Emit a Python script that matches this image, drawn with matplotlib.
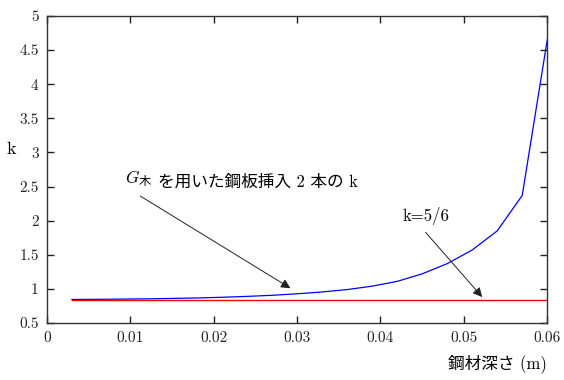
import numpy as np
import matplotlib
matplotlib.use("Agg")
import matplotlib.pyplot as plt

plt.rcParams['font.family'] = ['cmr10', 'Noto Sans CJK JP', 'DejaVu Sans']
plt.rcParams['mathtext.fontset'] = 'custom'
plt.rcParams['mathtext.it'] = 'cmmi10'
plt.rcParams['mathtext.rm'] = 'Noto Sans CJK JP'
plt.rcParams['axes.formatter.use_mathtext'] = True

# 鋼材深さ (m) と k
depth = [0.003, 0.006, 0.009, 0.012, 0.015, 0.018, 0.021, 0.024, 0.027, 0.030,
         0.033, 0.036, 0.039, 0.042, 0.045, 0.048, 0.051, 0.054, 0.057, 0.060]
k_steel = [0.845, 0.847, 0.850, 0.854, 0.860, 0.867, 0.877, 0.890, 0.906, 0.928,
           0.955, 0.990, 1.04, 1.11, 1.22, 1.37, 1.57, 1.85, 2.37, 4.65]
k_const = 5 / 6

xticks = [0, 0.01, 0.02, 0.03, 0.04, 0.05, 0.06]
xticklabels = ['0', '0.01', '0.02', '0.03', '0.04', '0.05', '0.06']
yticks = [0.5, 1, 1.5, 2, 2.5, 3, 3.5, 4, 4.5, 5]
yticklabels = ['0.5', '1', '1.5', '2', '2.5', '3', '3.5', '4', '4.5', '5']

fig = plt.figure(figsize=(5.64, 3.8), dpi=100)
ax = fig.add_axes([0.0833, 0.15, 0.887, 0.808])

ax.plot(depth, k_steel, color='blue', lw=0.9)
ax.plot([depth[0], depth[-1]], [k_const, k_const], color='red', lw=1.0)

ax.set_xlim(0, 0.06)
ax.set_ylim(0.5, 5)
ax.set_xticks(xticks)
ax.set_xticklabels(xticklabels)
ax.set_yticks(yticks)
ax.set_yticklabels(yticklabels)
ax.tick_params(direction='in', length=5, width=1, top=True, right=True,
               labelsize=11, colors='#222222', pad=6)
for s in ax.spines.values():
    s.set_color('#333333')
    s.set_linewidth(1.0)

ax.set_ylabel('k', rotation=0, fontsize=13)
ax.yaxis.set_label_coords(-0.072, 0.54)
ax.set_xlabel('鋼材深さ (m)', fontsize=12)
ax.xaxis.set_label_coords(0.9, -0.10)

arrow = dict(arrowstyle='-|>', color='#222222', lw=0.7, mutation_scale=14,
             shrinkA=0, shrinkB=0)
ax.annotate('', xy=(0.0292, 1.01), xytext=(0.0112, 2.36), arrowprops=arrow)
ax.text(0.0094, 2.45, r'$G_{\mathrm{木}}$', fontsize=12.5, va='bottom', ha='left')
ax.text(0.0133, 2.45, 'を用いた鋼板挿入 2 本の k', fontsize=12,
        va='bottom', ha='left')
ax.annotate('', xy=(0.0522, 0.88), xytext=(0.0454, 1.83), arrowprops=arrow)
ax.text(0.0427, 1.93, 'k=5/6', fontsize=12, va='bottom', ha='left')

fig.savefig('out.png', dpi=100)
